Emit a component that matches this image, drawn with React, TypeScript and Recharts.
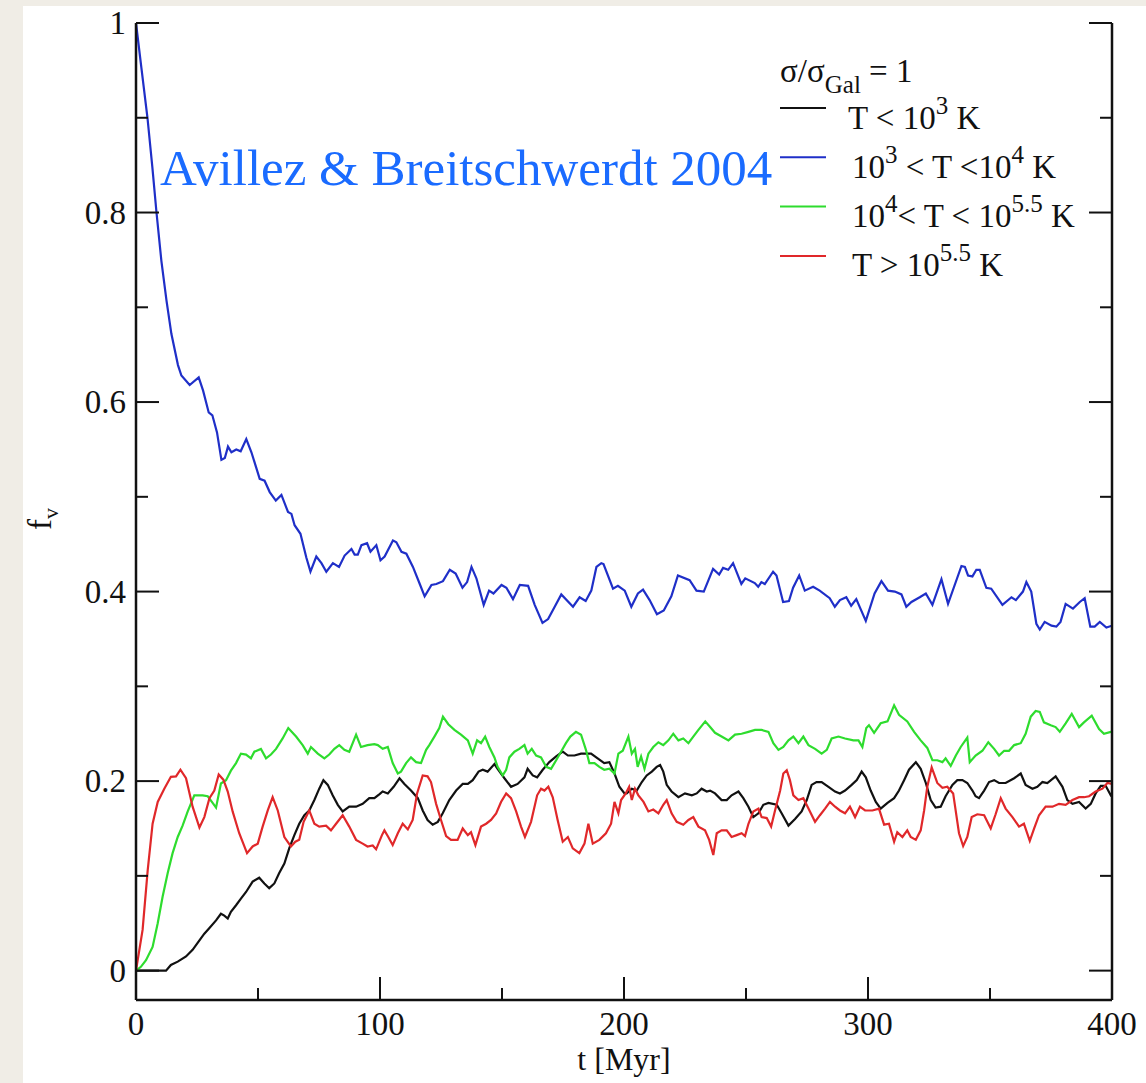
// Volume filling factors f_v vs time for four temperature regimes (sigma/sigma_Gal = 1).

import { Line, LineChart, XAxis, YAxis } from "recharts";

const SERIF = "'Liberation Serif', 'Times New Roman', serif";
const INK = "#111";

// plot frame in page pixels (used only for tick marks, which sit inside the frame)
const FRAME = { left: 136, right: 1112, top: 23, bottom: 1000 };

// t [Myr], f_v
const coldT: [number, number][] = [
  [0, 0], [12.3, 0], [14.3, 0.006], [17.1, 0.0095], [20.5, 0.015], [23.2, 0.022], [26, 0.032], [28, 0.039],
  [30.1, 0.045], [32.8, 0.053], [34.8, 0.06], [36.2, 0.058], [37.6, 0.055], [38.9, 0.062], [41, 0.069], [43, 0.076],
  [45.1, 0.083], [47.8, 0.094], [50.5, 0.098], [52.6, 0.092], [54.6, 0.087], [56.7, 0.092], [58.7, 0.103],
  [60.8, 0.113], [62.8, 0.129], [64.9, 0.143], [66.9, 0.155], [69, 0.164], [71, 0.169], [73.1, 0.18], [75.1, 0.192],
  [76.8, 0.201], [78.6, 0.196], [80.6, 0.185], [82.7, 0.175], [84.7, 0.168], [87.4, 0.173], [90.2, 0.173],
  [92.9, 0.176], [95.6, 0.182], [97.7, 0.182], [99.7, 0.186], [101.1, 0.189], [103.2, 0.187], [105.6, 0.194],
  [108, 0.203], [110, 0.197], [112.7, 0.19], [115.5, 0.182], [117.5, 0.169], [119.5, 0.159], [121.6, 0.154],
  [123.7, 0.157], [125.7, 0.166], [128.4, 0.18], [131.2, 0.19], [133.9, 0.197], [136, 0.197], [138, 0.201],
  [140.4, 0.21], [142.1, 0.212], [144.1, 0.21], [146.9, 0.218], [148.2, 0.213], [151, 0.203], [153.7, 0.194],
  [156.4, 0.197], [159.2, 0.204], [160.5, 0.213], [162.6, 0.206], [164.4, 0.204], [166.7, 0.212], [169.4, 0.22],
  [172.2, 0.226], [174.9, 0.231], [177, 0.227], [179.7, 0.227], [182.4, 0.229], [186.5, 0.229], [189.2, 0.224],
  [191.9, 0.219], [194, 0.22], [196.1, 0.208], [198.1, 0.194], [200.2, 0.187], [201.1, 0.187], [203.2, 0.192],
  [205.2, 0.19], [207.3, 0.199], [209.3, 0.206], [211.4, 0.21], [213.4, 0.215], [214.8, 0.217], [216.1, 0.21],
  [217.5, 0.196], [219.5, 0.189], [222.3, 0.183], [225, 0.187], [227.8, 0.185], [229.8, 0.187], [231.8, 0.192],
  [233.9, 0.189], [235.3, 0.19], [237.3, 0.187], [240, 0.18], [242.1, 0.18], [244.1, 0.185], [246.9, 0.189],
  [248.9, 0.182], [251, 0.173], [253, 0.162], [255.1, 0.166], [257.1, 0.175], [259.2, 0.177], [262.6, 0.175],
  [264.6, 0.166], [267.4, 0.153], [270.1, 0.16], [272.8, 0.168], [274.9, 0.18], [276.9, 0.196], [278.9, 0.199],
  [281, 0.199], [283.8, 0.194], [286.5, 0.189], [288.5, 0.187], [290.6, 0.19], [293.3, 0.196], [295.4, 0.201],
  [297.4, 0.21], [299.1, 0.204], [301.1, 0.19], [303.2, 0.178], [305.2, 0.171], [308, 0.177], [310.7, 0.182],
  [312.7, 0.19], [314.8, 0.201], [316.8, 0.212], [319.6, 0.22], [321.6, 0.213], [323.7, 0.198], [325.7, 0.18],
  [327.7, 0.172], [329.8, 0.173], [331.8, 0.184], [334.6, 0.196], [336.6, 0.201], [338.7, 0.201], [340.7, 0.198],
  [342.8, 0.19], [344.1, 0.184], [345.5, 0.182], [347.6, 0.19], [349.6, 0.199], [351.7, 0.201], [353.7, 0.198],
  [356.4, 0.198], [359.9, 0.203], [362.6, 0.208], [364.6, 0.196], [367.4, 0.192], [369.4, 0.194], [371.5, 0.199],
  [373.5, 0.198], [376.9, 0.205], [379.7, 0.194], [381.7, 0.18], [383.8, 0.176], [386.5, 0.178], [389.2, 0.171],
  [391.3, 0.176], [393.3, 0.187], [395.4, 0.195], [397.4, 0.195], [399.5, 0.185], [400, 0.186],
];

const warmT: [number, number][] = [
  [0, 1.0], [2.2, 0.953], [4.7, 0.9], [6.7, 0.848], [8.4, 0.8], [10.4, 0.749], [12.5, 0.707], [14.5, 0.672],
  [17.2, 0.639], [18.6, 0.628], [22, 0.618], [25.7, 0.626], [27.5, 0.612], [29.8, 0.589], [31.3, 0.586],
  [33.2, 0.568], [35, 0.539], [36.4, 0.541], [37.7, 0.553], [39.1, 0.547], [41.1, 0.55], [42.9, 0.548],
  [45.2, 0.561], [47.3, 0.547], [50.7, 0.519], [52.7, 0.517], [54.8, 0.505], [57.3, 0.496], [59.6, 0.502],
  [62.3, 0.484], [63.7, 0.482], [65, 0.47], [67.4, 0.461], [69.8, 0.436], [71.5, 0.421], [73.9, 0.437], [76, 0.43],
  [78, 0.421], [80.7, 0.43], [83.2, 0.426], [85.5, 0.438], [88.3, 0.445], [89.6, 0.439], [90.9, 0.439],
  [92.4, 0.449], [94.7, 0.451], [96.1, 0.442], [98.5, 0.449], [100.2, 0.433], [101.9, 0.437], [105.3, 0.454],
  [106.7, 0.452], [108.8, 0.442], [110.8, 0.44], [113.5, 0.426], [116.3, 0.408], [118.3, 0.395], [121.1, 0.407],
  [123.1, 0.408], [125.8, 0.411], [128.6, 0.423], [131, 0.419], [133.8, 0.404], [135.7, 0.41], [137.5, 0.426],
  [139.5, 0.414], [142.5, 0.386], [144.7, 0.401], [146.5, 0.398], [149.8, 0.407], [151.8, 0.404], [154.5, 0.392],
  [157.3, 0.407], [160.7, 0.406], [163.4, 0.386], [166.6, 0.367], [168.9, 0.371], [171.6, 0.384], [174.3, 0.397],
  [179.1, 0.384], [181.8, 0.394], [184.3, 0.39], [186.6, 0.401], [188.7, 0.426], [190.7, 0.43], [191.6, 0.429],
  [195.5, 0.403], [197.5, 0.406], [200.3, 0.401], [203, 0.384], [205.7, 0.398], [207.8, 0.402], [210.5, 0.391],
  [213.5, 0.376], [216.3, 0.38], [219.4, 0.395], [222.1, 0.417], [226.9, 0.412], [229.7, 0.401], [232.7, 0.4],
  [236.5, 0.424], [239, 0.418], [240.6, 0.425], [242.7, 0.423], [244.7, 0.43], [248.1, 0.408], [249.7, 0.414],
  [253.6, 0.409], [255, 0.405], [256.3, 0.41], [257.7, 0.408], [261.1, 0.421], [262.5, 0.417], [265.2, 0.389],
  [267.6, 0.39], [269.3, 0.404], [271.8, 0.417], [274.1, 0.401], [277.5, 0.405], [280.2, 0.401], [284.3, 0.393],
  [286.4, 0.384], [288.5, 0.391], [291.1, 0.394], [293.1, 0.385], [295.2, 0.392], [299.1, 0.369], [302.7, 0.398],
  [305.5, 0.411], [308.2, 0.401], [311, 0.4], [313.7, 0.397], [315.7, 0.384], [317.8, 0.389], [321.2, 0.394],
  [323.7, 0.398], [326.4, 0.386], [330.1, 0.413], [332.8, 0.387], [338.3, 0.427], [339.7, 0.426], [341, 0.417],
  [342.8, 0.416], [344.4, 0.423], [345.8, 0.423], [348.5, 0.404], [350.5, 0.403], [355.1, 0.386], [358.8, 0.394],
  [360.6, 0.391], [363.5, 0.4], [364.9, 0.41], [366.9, 0.4], [369, 0.366], [370.4, 0.36], [372.4, 0.368],
  [375.2, 0.364], [377.2, 0.363], [378.9, 0.368], [381, 0.387], [384, 0.382], [386.8, 0.389], [388.8, 0.393],
  [391.1, 0.363], [392.9, 0.363], [395, 0.368], [397.7, 0.362], [400, 0.364],
];

const hotT: [number, number][] = [
  [0, 0], [2, 0.004], [4.1, 0.011], [6.8, 0.025], [8.9, 0.05], [10.9, 0.078], [13, 0.103], [15, 0.124],
  [17.1, 0.141], [19.1, 0.153], [21.2, 0.168], [23.9, 0.185], [27.3, 0.185], [29.4, 0.184], [31.4, 0.177],
  [32.8, 0.172], [34.8, 0.1975], [36.9, 0.201], [38.9, 0.211], [41, 0.219], [43, 0.229], [45.1, 0.228],
  [47.1, 0.224], [48.5, 0.231], [51.2, 0.234], [53.3, 0.224], [55.3, 0.228], [57.4, 0.234], [60.1, 0.245],
  [62.4, 0.256], [65.6, 0.247], [68.3, 0.238], [70.4, 0.229], [71.7, 0.236], [74.5, 0.229], [77.2, 0.224],
  [79.2, 0.228], [81.3, 0.234], [83.3, 0.238], [85.4, 0.233], [87.4, 0.231], [90.2, 0.249], [92.2, 0.236],
  [94.9, 0.238], [97.7, 0.239], [99.1, 0.238], [101.1, 0.234], [103.2, 0.236], [105.2, 0.219], [107.3, 0.208],
  [108.6, 0.21], [110.7, 0.219], [112.7, 0.225], [114.8, 0.22], [116.8, 0.219], [118.9, 0.233], [120.2, 0.238],
  [122.3, 0.247], [124.3, 0.256], [125.8, 0.268], [128, 0.26], [130.5, 0.254], [133.2, 0.249], [136, 0.243],
  [138, 0.229], [139.8, 0.243], [141.4, 0.24], [143.1, 0.247], [144.8, 0.236], [146.9, 0.225], [148.2, 0.215],
  [150.3, 0.206], [151.7, 0.212], [153, 0.225], [155.1, 0.231], [157.1, 0.234], [159.2, 0.238], [160.5, 0.229],
  [162.2, 0.234], [164, 0.227], [166, 0.225], [168.1, 0.215], [170.1, 0.213], [172.2, 0.222], [174.2, 0.231],
  [176.2, 0.24], [178, 0.247], [180.3, 0.252], [182.4, 0.249], [184.4, 0.233], [185.8, 0.219], [187.9, 0.219],
  [189.9, 0.215], [191.9, 0.212], [194, 0.213], [196.1, 0.208], [197.7, 0.229], [199.5, 0.232], [201.8, 0.247],
  [203.2, 0.229], [204.5, 0.234], [205.6, 0.215], [207, 0.226], [208.4, 0.213], [210, 0.229], [212, 0.236],
  [214.1, 0.241], [216.1, 0.238], [218.2, 0.243], [220.2, 0.25], [222.3, 0.243], [224.3, 0.245], [226.4, 0.24],
  [228.4, 0.247], [230.5, 0.254], [233.3, 0.263], [235.3, 0.257], [237.3, 0.251], [240, 0.247], [242.8, 0.243],
  [245.5, 0.249], [248.2, 0.25], [251, 0.252], [253.7, 0.254], [256.4, 0.254], [259.2, 0.252], [261.2, 0.24],
  [263.3, 0.233], [265.3, 0.236], [267.4, 0.243], [269.4, 0.247], [271.5, 0.24], [273.5, 0.247], [275.6, 0.238],
  [278.3, 0.234], [281, 0.229], [283.1, 0.233], [285.1, 0.245], [287.9, 0.247], [290.6, 0.245], [294, 0.243],
  [296.1, 0.243], [297.7, 0.236], [299.3, 0.256], [300.4, 0.259], [302.5, 0.251], [305.2, 0.261], [308, 0.263],
  [310.7, 0.28], [312.7, 0.27], [316.1, 0.263], [318.9, 0.252], [321.6, 0.243], [324.3, 0.235], [326.4, 0.222],
  [328.4, 0.222], [330.5, 0.22], [331.8, 0.224], [333.9, 0.216], [336, 0.227], [338, 0.236], [340.7, 0.246],
  [341.7, 0.22], [344.1, 0.227], [346.9, 0.232], [349.3, 0.241], [351.7, 0.234], [353.7, 0.227], [355.8, 0.232],
  [357.8, 0.232], [359.9, 0.238], [362.6, 0.24], [364.6, 0.25], [366.7, 0.268], [368.7, 0.274], [370.4, 0.273],
  [372.1, 0.262], [374.9, 0.259], [376.9, 0.257], [378.6, 0.252], [381, 0.261], [383.5, 0.271], [386.5, 0.257],
  [388.5, 0.262], [391.7, 0.269], [394.7, 0.255], [396.7, 0.25], [399.5, 0.252], [400, 0.252],
];

const veryHotT: [number, number][] = [
  [0, 0], [2.7, 0.043], [4.8, 0.106], [6.8, 0.155], [8.9, 0.178], [11.6, 0.192], [14.3, 0.2045], [16.4, 0.205],
  [18.2, 0.212], [20.5, 0.203], [23.2, 0.173], [26, 0.151], [28, 0.162], [30.1, 0.182], [32.1, 0.19],
  [33.9, 0.207], [35.8, 0.2015], [37.6, 0.189], [39.6, 0.168], [42.3, 0.145], [45.5, 0.124], [47.8, 0.131],
  [49.9, 0.134], [51.9, 0.152], [54, 0.169], [56, 0.183], [58.1, 0.169], [60.8, 0.141], [63.5, 0.131],
  [65.3, 0.136], [66.9, 0.138], [68.7, 0.157], [71, 0.169], [73.1, 0.155], [75.1, 0.152], [77.9, 0.153],
  [79.9, 0.148], [82, 0.155], [84.7, 0.164], [87.4, 0.152], [90.2, 0.138], [92.9, 0.134], [94.9, 0.131],
  [97, 0.132], [98.4, 0.128], [100.8, 0.143], [101.8, 0.148], [103.4, 0.141], [105.2, 0.1325], [107.3, 0.145],
  [109.3, 0.155], [111.4, 0.149], [113.4, 0.159], [115.2, 0.187], [117.5, 0.206], [119.5, 0.205], [120.9, 0.199],
  [123, 0.176], [125, 0.159], [127.1, 0.142], [129.1, 0.138], [131.8, 0.138], [133.9, 0.15], [136, 0.143],
  [137.3, 0.146], [139.1, 0.1325], [141.4, 0.152], [143.5, 0.155], [145.5, 0.159], [147.6, 0.166], [149.6, 0.178],
  [151.7, 0.187], [153.7, 0.182], [155.8, 0.168], [157.8, 0.152], [159.4, 0.141], [161.9, 0.157], [164.4, 0.185],
  [166, 0.192], [167.4, 0.19], [169, 0.194], [170.8, 0.183], [172.8, 0.159], [174.9, 0.136], [177, 0.141],
  [179, 0.129], [181.7, 0.124], [183.8, 0.134], [185.4, 0.155], [187.2, 0.134], [189.9, 0.138], [192.6, 0.145],
  [194.7, 0.155], [196.1, 0.178], [197.7, 0.166], [198.8, 0.18], [200.7, 0.187], [202.1, 0.194], [203.2, 0.18],
  [204.5, 0.192], [205.9, 0.185], [208, 0.178], [210, 0.168], [212, 0.17], [214.1, 0.166], [216.1, 0.175],
  [217.5, 0.18], [219.5, 0.166], [221.6, 0.157], [224.3, 0.154], [226.4, 0.159], [228.4, 0.162], [230.5, 0.152],
  [233.2, 0.148], [234.9, 0.138], [236.6, 0.122], [238, 0.145], [240, 0.148], [242.1, 0.148], [244.1, 0.141],
  [246.2, 0.143], [248.2, 0.145], [249.6, 0.142], [251, 0.155], [253, 0.168], [255.1, 0.171], [256.4, 0.162],
  [258.5, 0.161], [260.3, 0.152], [261.9, 0.169], [264, 0.19], [265.3, 0.208], [266.7, 0.2115], [268, 0.201],
  [269.4, 0.185], [271.5, 0.18], [273.5, 0.182], [275.6, 0.171], [278.3, 0.157], [280.3, 0.164], [282.4, 0.171],
  [284.4, 0.178], [286.5, 0.173], [288.5, 0.169], [290.6, 0.166], [292.6, 0.173], [294.7, 0.162], [296.7, 0.173],
  [298.8, 0.169], [301.8, 0.169], [304.5, 0.171], [306.6, 0.154], [308.6, 0.155], [310.7, 0.136], [312, 0.146],
  [314.1, 0.141], [316.1, 0.148], [317.5, 0.141], [319.6, 0.138], [321.6, 0.148], [323, 0.169], [324.3, 0.194],
  [326.1, 0.2145], [328.4, 0.198], [330.5, 0.193], [332.5, 0.194], [334.9, 0.187], [337.3, 0.145], [339, 0.1315],
  [340.7, 0.141], [342.5, 0.162], [344.8, 0.165], [347.6, 0.164], [350.3, 0.15], [352.3, 0.165], [354.4, 0.182],
  [356.4, 0.171], [359.2, 0.162], [361.9, 0.152], [363.9, 0.155], [366.3, 0.137], [368.1, 0.15], [370.1, 0.164],
  [372.8, 0.173], [375.6, 0.173], [378.3, 0.176], [381, 0.175], [383.8, 0.18], [386.5, 0.183], [388.5, 0.183],
  [390.6, 0.184], [393.3, 0.189], [396.1, 0.192], [398.1, 0.198], [400, 0.197],
];

const xTicks = [0, 50, 100, 150, 200, 250, 300, 350, 400];
const yTicks = [0, 0.1, 0.2, 0.3, 0.4, 0.5, 0.6, 0.7, 0.8, 0.9, 1];
const yLabels = ["0", "", "0.2", "", "0.4", "", "0.6", "", "0.8", "", "1"];

const series = [
  { key: "cold", pts: coldT, color: "#111111" },
  { key: "warm", pts: warmT, color: "#1f2fc8" },
  { key: "hot", pts: hotT, color: "#2edc2e" },
  { key: "veryhot", pts: veryHotT, color: "#e0282a" },
];

const toRows = (a: [number, number][]) => a.map(([t, v]) => ({ t, v }));

const majorX = (v: number) => v % 100 === 0;
const majorY = (v: number) => Math.round(v * 10) % 2 === 0;

function BottomTick(props: any) {
  const { x, payload } = props;
  const len = majorX(payload.value) ? 23 : 12;
  return (
    <g>
      <line x1={x} x2={x} y1={FRAME.bottom} y2={FRAME.bottom - len} stroke={INK} strokeWidth={2} />
      {majorX(payload.value) && (
        <text x={x} y={FRAME.bottom + 35} textAnchor="middle" fontSize={33} fontFamily={SERIF} fill={INK}>
          {payload.value}
        </text>
      )}
    </g>
  );
}

function TopTick(props: any) {
  const { x, payload } = props;
  const len = majorX(payload.value) ? 23 : 12;
  return <line x1={x} x2={x} y1={FRAME.top} y2={FRAME.top + len} stroke={INK} strokeWidth={2} />;
}

function LeftTick(props: any) {
  const { y, payload, index } = props;
  const len = majorY(payload.value) ? 23 : 12;
  return (
    <g>
      <line x1={FRAME.left} x2={FRAME.left + len} y1={y} y2={y} stroke={INK} strokeWidth={2} />
      {yLabels[index] && (
        <text x={FRAME.left - 10} y={y + 11} textAnchor="end" fontSize={33} fontFamily={SERIF} fill={INK}>
          {yLabels[index]}
        </text>
      )}
    </g>
  );
}

function RightTick(props: any) {
  const { y, payload } = props;
  const len = majorY(payload.value) ? 23 : 12;
  return <line x1={FRAME.right} x2={FRAME.right - len} y1={y} y2={y} stroke={INK} strokeWidth={2} />;
}

const axisLine = { stroke: INK, strokeWidth: 2.5 };

function Sup({ children }: { children: string }) {
  return (
    <>
      <tspan dy={-15} fontSize={25}>{children}</tspan>
      <tspan dy={15}> </tspan>
    </>
  );
}

export default function App() {
  return (
    <div style={{ position: "absolute", left: 0, top: 0, width: 1146, height: 1083, background: "#f0ede6", overflow: "hidden" }}>
      <div style={{ position: "absolute", left: 23, top: 6, right: 0, bottom: 0, background: "#ffffff" }} />
      <div style={{ position: "absolute", left: 0, top: 0 }}>
        <LineChart width={1146} height={1083} margin={{ top: 23, right: 0, bottom: 0, left: 0 }}>
          <XAxis
            xAxisId="b"
            dataKey="t"
            type="number"
            domain={[0, 400]}
            ticks={xTicks}
            interval={0}
            allowDataOverflow
            height={83}
            tickSize={0}
            tickMargin={10}
            tickLine={false}
            axisLine={axisLine}
            tick={BottomTick}
            label={{ value: "t [Myr]", position: "insideBottom", offset: 13, fontSize: 32, fontFamily: SERIF, fill: INK }}
          />
          <XAxis
            xAxisId="top"
            orientation="top"
            type="number"
            domain={[0, 400]}
            ticks={xTicks}
            interval={0}
            allowDataOverflow
            height={0}
            tickSize={0}
            tickMargin={0}
            tickLine={false}
            axisLine={axisLine}
            tick={TopTick}
          />
          <YAxis
            yAxisId="l"
            type="number"
            domain={[-0.031, 1]}
            ticks={yTicks}
            interval={0}
            allowDataOverflow
            width={136}
            tickSize={0}
            tickMargin={10}
            tickLine={false}
            axisLine={axisLine}
            tick={LeftTick}
          />
          <YAxis
            yAxisId="r"
            orientation="right"
            type="number"
            domain={[-0.031, 1]}
            ticks={yTicks}
            interval={0}
            allowDataOverflow
            width={34}
            tickSize={0}
            tickMargin={0}
            tickLine={false}
            axisLine={axisLine}
            tick={RightTick}
          />
          {series.map((s) => (
            <Line
              key={s.key}
              xAxisId="b"
              yAxisId="l"
              data={toRows(s.pts)}
              dataKey="v"
              type="linear"
              stroke={s.color}
              strokeWidth={2.2}
              dot={false}
              activeDot={false}
              isAnimationActive={false}
            />
          ))}
        </LineChart>
      </div>
      <svg width={1146} height={1083} style={{ position: "absolute", left: 0, top: 0, pointerEvents: "none" }}>
        <g fontFamily={SERIF} fill={INK}>
          <text x={51} y={519} fontSize={33} transform="rotate(-90 51 519)" textAnchor="middle">
            f<tspan dy={7} fontSize={22}>v</tspan>
          </text>
          <text x={780} y={82} fontSize={33}>
            σ/σ<tspan dy={11} fontSize={25}>Gal</tspan><tspan dy={-11}> = 1</tspan>
          </text>
          {series.map((s, i) => (
            <line key={s.key} x1={780} x2={826} y1={108 + i * 49.3} y2={108 + i * 49.3} stroke={s.color} strokeWidth={2} />
          ))}
          <text x={848} y={129} fontSize={33}>
            T &lt; 10<Sup>3</Sup>K
          </text>
          <text x={852} y={178} fontSize={33}>
            10<tspan dy={-15} fontSize={25}>3</tspan><tspan dy={15}>{" < T <10"}</tspan><Sup>4</Sup>K
          </text>
          <text x={852} y={227} fontSize={33}>
            10<tspan dy={-15} fontSize={25}>4</tspan><tspan dy={15}>{"< T < 10"}</tspan><Sup>5.5</Sup>K
          </text>
          <text x={852} y={276} fontSize={33}>
            T &gt; 10<Sup>5.5</Sup>K
          </text>
        </g>
        <text x={160} y={185} fontSize={51} fontFamily={SERIF} fill="#1a6bff">
          Avillez &amp; Breitschwerdt 2004
        </text>
      </svg>
    </div>
  );
}
